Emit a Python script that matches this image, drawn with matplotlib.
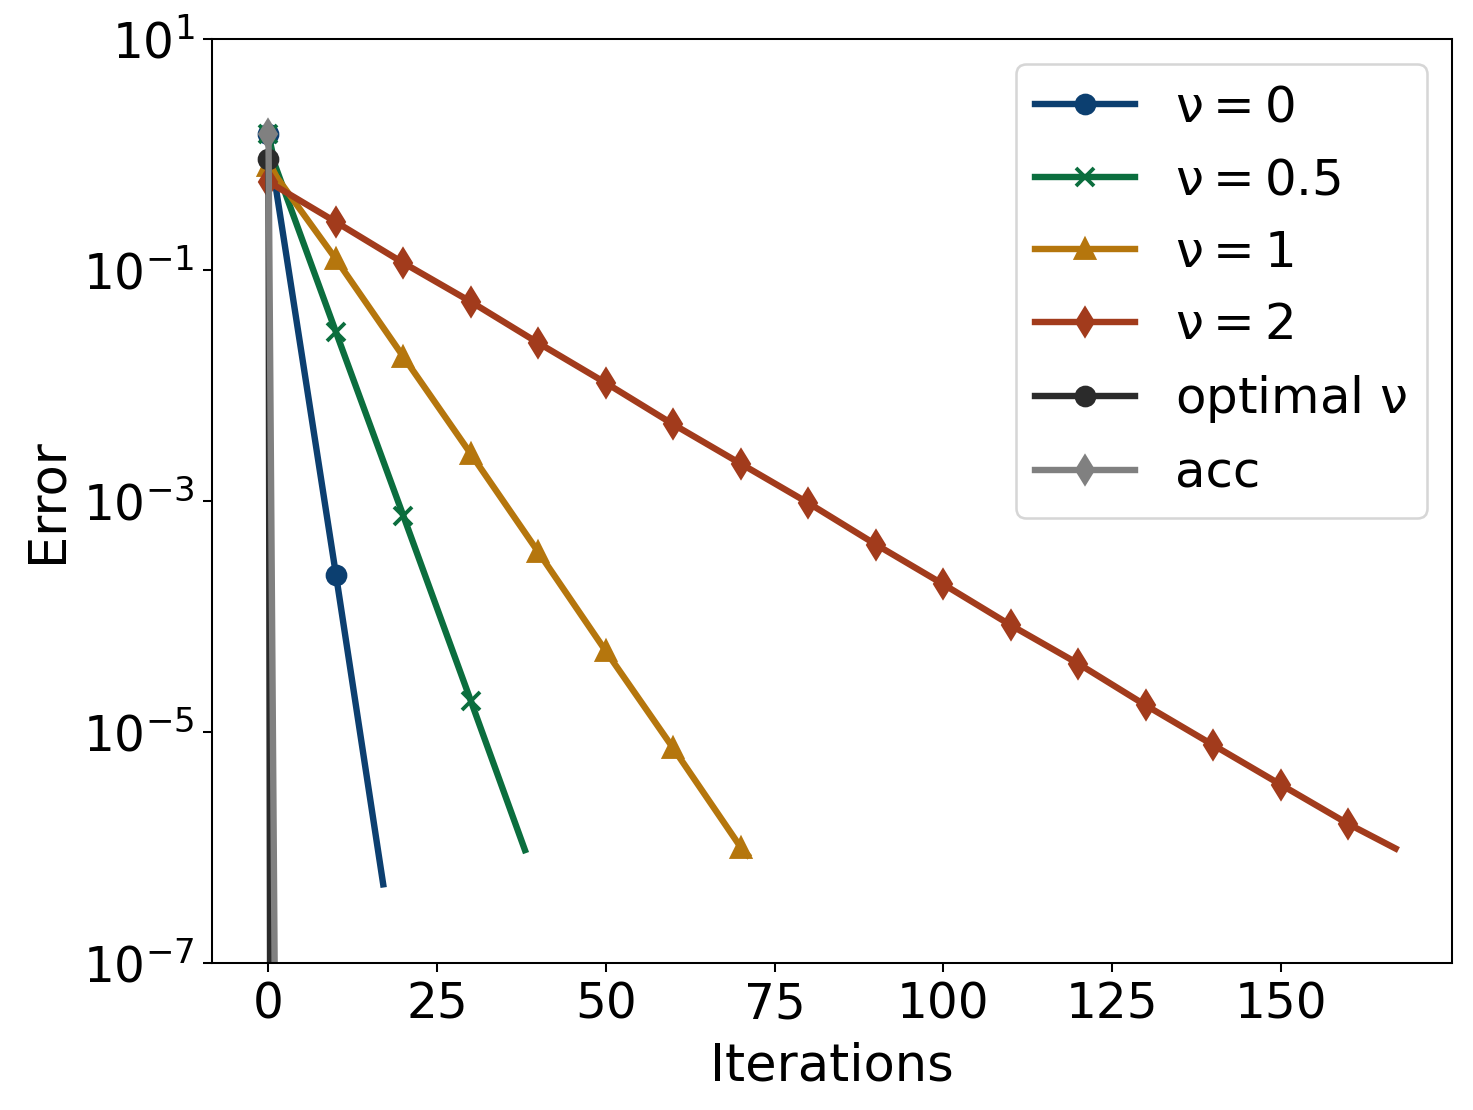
import numpy as np
import matplotlib.pyplot as plt

# error curves (values at marker positions + endpoints)
it_nu0 = [0, 1, 10, 17]
err_nu0 = [1.5, 0.56, 2.3e-4, 4.8e-7]

it_nu05 = [0, 1, 10, 20, 30, 38]
err_nu05 = [1.5, 0.8, 2.9e-2, 7.4e-4, 1.85e-5, 9.5e-7]

it_nu1 = [0, 10, 20, 30, 40, 50, 60, 70, 71]
err_nu1 = [0.8, 0.124, 1.77e-2, 2.55e-3, 3.6e-4, 5.0e-5, 7.2e-6, 1.0e-6, 8.6e-7]

it_nu2 = [0, 10, 20, 30, 40, 50, 60, 70, 80, 90, 100, 110, 120, 130, 140, 150, 160, 167]
err_nu2 = [0.58, 0.26, 0.115, 5.3e-2, 2.33e-2, 1.05e-2, 4.6e-3, 2.1e-3, 9.6e-4,
           4.2e-4, 1.9e-4, 8.4e-5, 3.9e-5, 1.7e-5, 7.7e-6, 3.5e-6, 1.6e-6, 9.8e-7]

it_opt = [0, 1]
err_opt = [0.91, 1e-30]

it_acc = [0, 1, 2]
err_acc = [1.5, 2e-8, 1e-16]

series = [
    (it_nu0, err_nu0, r'$\nu = 0$', '#0c3f70', 'o', [0, 2]),
    (it_nu05, err_nu05, r'$\nu = 0.5$', '#0b6e3e', 'x', [0, 2, 3, 4]),
    (it_nu1, err_nu1, r'$\nu = 1$', '#b5760d', '^', list(range(8))),
    (it_nu2, err_nu2, r'$\nu = 2$', '#a23b1c', 'd', list(range(17))),
    (it_opt, err_opt, r'optimal $\nu$', '#2b2b2b', 'o', [0]),
    (it_acc, err_acc, 'acc', '#808080', 'd', [0]),
]

plt.rcParams['font.size'] = 19
plt.rcParams['mathtext.default'] = 'regular'

fig, ax = plt.subplots(figsize=(1473 / 184, 1110 / 184), dpi=184)
fig.subplots_adjust(left=0.144, right=0.9857, top=0.9649, bottom=0.1324)

for x, y, lab, col, mk, me in series:
    ax.semilogy(x, y, color=col, marker=mk, markevery=me, linewidth=2.5,
                markersize=7, markeredgewidth=1.5, label=lab)

ax.set_ylim(1e-7, 1e1)
ax.set_yticks([1e1, 1e-1, 1e-3, 1e-5, 1e-7])
ax.yaxis.set_minor_locator(plt.NullLocator())
ax.set_xticks([0, 25, 50, 75, 100, 125, 150])
ax.set_xlabel('Iterations', fontsize=20, labelpad=5)
ax.set_ylabel('Error', fontsize=20)
ax.legend(loc='upper right', fontsize=19.5, labelspacing=0.49)

fig.savefig('out.png', dpi=184)
